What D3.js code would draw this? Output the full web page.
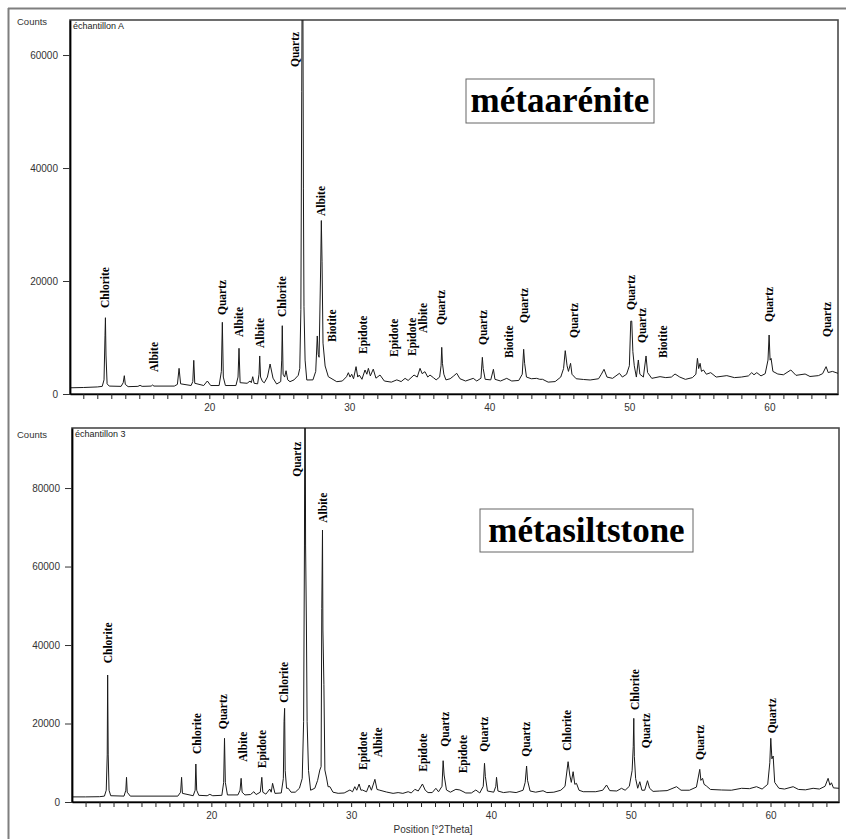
<!DOCTYPE html>
<html>
<head>
<meta charset="utf-8">
<script src="https://cdn.jsdelivr.net/npm/d3@7"></script>
<style>
  html, body { margin: 0; padding: 0; background: #ffffff; }
  svg { display: block; }
</style>
</head>
<body>
<svg id="chart" width="846" height="839"></svg>
<script>
// ---------- DATA ----------
// échantillon A (métaarénite): 2θ positions and counts
const thetaA = [10.05,11.0,12.0,12.35,12.48,12.55,12.58,12.62,12.7,12.85,13.7,13.85,13.93,14.0,14.2,14.9,15.05,15.2,15.85,15.93,16.05,17.5,17.72,17.84,17.95,18.7,18.82,18.89,18.96,19.6,19.86,20.1,20.7,20.86,20.93,21.0,21.15,21.9,22.05,22.12,22.2,22.7,22.91,23.0,23.1,23.2,23.45,23.55,23.6,23.66,23.8,23.93,24.15,24.34,24.55,24.81,25.1,25.17,25.21,25.27,25.38,25.48,25.6,25.76,26.05,26.35,26.46,26.54,26.6,26.66,26.72,26.76,26.84,26.96,27.4,27.6,27.71,27.78,27.84,27.96,28.0,28.05,28.12,28.27,28.5,29.1,29.5,29.8,29.93,30.05,30.17,30.3,30.48,30.6,30.71,30.9,31.12,31.25,31.36,31.5,31.71,31.9,32.19,32.5,33.0,33.39,33.7,33.98,34.2,34.62,34.85,35.05,35.2,35.4,35.6,35.76,36.0,36.2,36.45,36.55,36.6,36.65,36.75,36.9,37.2,37.45,37.67,37.9,38.3,38.85,39.1,39.4,39.5,39.56,39.7,40.1,40.29,40.4,40.8,41.24,41.6,42.1,42.35,42.45,42.52,42.65,43.0,43.38,43.6,43.8,44.2,44.7,45.1,45.3,45.42,45.55,45.65,45.8,45.9,46.2,46.72,47.2,47.8,48.0,48.19,48.4,48.8,49.29,49.5,49.8,50.0,50.1,50.17,50.25,50.35,50.5,50.64,50.75,51.0,51.19,51.3,51.6,52.19,52.6,53.0,53.26,53.6,54.0,54.5,54.75,54.86,54.95,55.05,55.15,55.29,55.5,55.81,56.2,56.96,57.5,58.0,58.5,58.74,58.9,59.1,59.4,59.7,59.9,59.98,60.05,60.12,60.25,60.6,61.0,61.53,61.9,62.55,62.9,63.5,63.8,64.05,64.2,64.5,64.9];
const countsA = [1100,1150,1250,1350,2500,10300,13500,6900,1800,1400,1350,2000,3240,1700,1300,1350,1530,1350,1400,1590,1400,1400,1700,4540,1800,1500,2200,5960,1900,1500,2300,1500,1500,4000,12690,3000,1500,1500,3000,8090,2000,1900,2300,2000,3060,1900,1800,3500,6730,3000,2200,1990,3000,5310,2800,1760,2200,6000,12090,3500,3000,4120,2500,2180,2500,3300,4540,15000,53600,90000,36300,15450,6000,2480,2500,4000,10270,7000,6500,23540,30700,23500,9000,4960,3060,2180,2300,3060,3770,3000,3500,2700,4840,3000,3360,2600,4250,3500,4540,3200,4400,2800,3360,2300,2100,2500,2200,2770,2400,3360,3000,4540,3600,3950,3000,3360,2900,2500,3000,5000,8260,5430,3500,2500,2700,3190,3660,2700,2300,2770,2300,2800,6490,4500,2600,2500,4370,2600,2300,2770,2300,2400,3500,7910,5430,3000,2700,2770,2600,2600,2100,2200,3000,4500,7670,5000,4000,5430,3500,2700,2570,2480,2700,3500,4370,3000,2770,3660,3000,3500,5000,12900,12900,7490,5000,3000,6020,3500,3000,6730,3800,2770,3070,2900,3000,3540,3000,2590,2900,3500,6310,4500,5430,4000,4250,3500,3780,3000,3250,2900,3000,3200,3780,3400,3780,3200,3600,6000,10440,6000,6310,4000,3540,3400,4250,3300,3540,3100,3250,3600,4840,3800,4000,3660];

// échantillon 3 (métasiltstone): 2θ positions and counts
const thetaB = [10.03,11.0,12.0,12.35,12.48,12.55,12.58,12.62,12.68,12.8,13.75,13.88,13.93,13.98,14.2,17.6,17.8,17.87,17.93,18.7,18.84,18.89,18.95,19.1,19.7,19.89,20.1,20.75,20.88,20.94,21.0,21.15,21.9,22.05,22.13,22.2,22.4,22.8,23.04,23.2,23.5,23.61,23.68,23.9,24.18,24.28,24.38,24.55,25.0,25.15,25.2,25.24,25.28,25.38,25.5,25.7,26.0,26.3,26.5,26.6,26.66,26.7,26.74,26.8,26.85,26.95,27.1,27.4,27.6,27.76,27.85,27.9,27.95,27.98,28.05,28.12,28.24,28.35,28.48,28.7,29.07,29.5,29.91,30.1,30.26,30.4,30.57,30.7,30.8,31.1,31.29,31.45,31.7,31.85,32.05,32.53,33.0,33.36,33.7,34.08,34.3,34.56,34.8,35.1,35.3,35.5,35.8,36.06,36.25,36.5,36.58,36.65,36.82,37.1,37.49,37.78,38.2,38.6,38.92,39.2,39.45,39.54,39.6,39.75,40.2,40.35,40.4,40.5,40.9,41.35,41.8,42.3,42.45,42.55,42.62,42.8,43.2,43.73,44.0,44.5,45.0,45.3,45.52,45.64,45.75,45.88,46.0,46.12,46.3,46.6,47.5,48.0,48.27,48.5,49.0,49.34,49.6,49.9,50.1,50.18,50.22,50.26,50.35,50.5,50.65,50.8,51.0,51.2,51.35,51.6,52.08,52.6,53.28,53.6,54.2,54.7,54.94,55.02,55.14,55.25,55.42,55.7,56.5,57.2,57.93,58.5,59.0,59.4,59.8,59.95,60.02,60.1,60.19,60.3,60.6,61.0,61.62,62.0,62.5,63.05,63.5,63.9,64.12,64.25,64.36,64.5,64.9];
const countsB = [1300,1300,1350,1500,3000,12000,32360,12000,3000,1600,1500,3000,6290,2500,1500,1500,2500,6290,2200,1600,3000,9680,3000,1700,1600,1950,1600,1700,5000,16230,5000,1800,1800,3000,6030,2500,1800,1900,2620,1900,2500,6290,2500,2000,3310,2500,4760,2200,2300,6000,20460,23870,8000,3500,3490,2500,2500,3500,6000,20460,65480,130000,65480,45100,20460,8000,3000,3500,5500,8150,9000,49350,69300,43820,30000,8150,6110,3900,3900,2500,2210,2300,3060,2600,3900,3000,4590,3000,3060,2600,4330,3000,5780,3200,3000,2540,2200,2400,2200,2620,2300,3230,2800,4590,3000,2400,2400,3490,2600,4000,10520,6880,3060,2500,3230,3060,2300,2300,3060,2300,4000,9860,6540,2800,2500,4000,6290,2800,2400,2600,2400,3000,5000,9170,5500,2800,2500,2870,2400,2500,3000,4000,10270,6880,5000,7720,4500,4760,3000,2620,2620,3000,4330,2900,2800,3490,3000,4000,8000,14100,21320,11550,6000,3500,5170,3000,3000,5430,3500,2700,2800,2900,3900,3000,3000,3800,8320,5500,6030,4500,4070,3200,3060,3000,3490,3400,3900,3300,4500,10000,16230,11000,11720,5000,3500,3300,3900,3200,3100,3490,3300,4000,6030,4300,4900,3600,3490];

// Phase labels: names, 2θ position and the count level where each label begins
const labelNamesA = ["Chlorite","Albite","Quartz","Albite","Albite","Chlorite","Quartz","Albite","Biotite","Epidote","Epidote","Epidote","Albite","Quartz","Quartz","Biotite","Quartz","Quartz","Quartz","Quartz","Biotite","Quartz","Quartz"];
const labelThetaA = [12.55,16.05,20.91,22.12,23.62,25.19,26.12,27.96,28.79,31.0,33.21,34.46,35.29,36.55,39.53,41.39,42.48,46.05,50.12,50.89,52.43,60.0,64.1];
const labelCountsA = [15220,3890,13980,10090,8140,13630,57880,31500,9200,7080,6550,6730,10800,12210,8670,6370,12570,9910,14870,9030,6370,12740,10090];

const labelNamesB = ["Chlorite","Chlorite","Quartz","Albite","Epidote","Chlorite","Quartz","Albite","Epidote","Albite","Epidote","Quartz","Epidote","Quartz","Quartz","Chlorite","Chlorite","Quartz","Quartz","Quartz"];
const labelThetaB = [12.62,18.94,20.84,22.23,23.59,25.21,26.14,28.0,30.86,31.93,35.11,36.7,38.01,39.49,42.48,45.45,50.29,51.08,54.94,60.11];
const labelCountsB = [35340,12230,18520,10270,8590,25300,82880,71160,8150,11390,7720,14090,7310,12820,11540,13070,23440,13680,10700,17500];

const yTicksA = [0, 20000, 40000, 60000];
const yTicksB = [0, 20000, 40000, 60000, 80000];
const xTickLabels = [20, 30, 40, 50, 60];
const sampleNames = ["échantillon A", "échantillon 3"];
const rockNames = ["métaarénite", "métasiltstone"];
const xTitle = "Position [°2Theta]";
const yTitle = "Counts";

// ---------- DRAWING ----------
const svg = d3.select("#chart");
const sans = "'Liberation Sans', Arial, sans-serif";
const serif = "'Liberation Serif', 'Times New Roman', serif";

// outer grey frame
svg.append("line").attr("x1", 8).attr("x2", 846).attr("y1", 8.5).attr("y2", 8.5)
  .attr("stroke", "#7f7f7f").attr("stroke-width", 2);
svg.append("line").attr("x1", 8.5).attr("x2", 8.5).attr("y1", 8).attr("y2", 839)
  .attr("stroke", "#7f7f7f").attr("stroke-width", 2);

function panel(cfg) {
  const { left, right, top, bottom, xDomain, yMax, theta, counts, yTicks,
          names, lth, lct, sample, rock, box, id, showXTitle, countsY } = cfg;
  const x = d3.scaleLinear().domain(xDomain).range([left, right]);
  const y = d3.scaleLinear().domain([0, yMax]).range([bottom, top]);
  const g = svg.append("g");

  g.append("clipPath").attr("id", id).append("rect")
    .attr("x", left).attr("y", top).attr("width", right - left).attr("height", bottom - top);

  // frame
  g.append("rect").attr("x", left).attr("y", top).attr("width", right - left).attr("height", bottom - top)
    .attr("fill", "none").attr("stroke", "#4a4a4a").attr("stroke-width", 1.6);

  // pattern
  const pts = theta.map((t, i) => [t, counts[i]]);
  g.append("path").datum(pts)
    .attr("clip-path", `url(#${id})`)
    .attr("fill", "none").attr("stroke", "#1a1a1a").attr("stroke-width", 1)
    .attr("stroke-linejoin", "round")
    .attr("d", d3.line().x(d => x(d[0])).y(d => y(d[1])));

  // x axis
  const minor = d3.range(Math.ceil(xDomain[0]), Math.floor(xDomain[1]) + 1);
  const xAxis = d3.axisBottom(x).tickValues(minor).tickSize(5).tickSizeOuter(0)
    .tickFormat(d => xTickLabels.includes(d) ? d : "");
  const xa = g.append("g").attr("transform", `translate(0,${bottom})`).call(xAxis);
  xa.select(".domain").attr("stroke", "#000").attr("stroke-width", 1.6);
  xa.selectAll(".tick line").attr("stroke", "#222");
  xa.selectAll(".tick text").attr("font-family", sans).attr("font-size", 10).attr("fill", "#333").attr("dy", "0.9em");

  // y axis
  const yAxis = d3.axisLeft(y).tickValues(yTicks).tickSize(7).tickSizeOuter(0).tickPadding(5)
    .tickFormat(d3.format("d"));
  const ya = g.append("g").attr("transform", `translate(${left},0)`).call(yAxis);
  ya.select(".domain").attr("stroke", "#000").attr("stroke-width", 1.8);
  ya.selectAll(".tick line").attr("stroke", "#333");
  ya.selectAll(".tick text").attr("font-family", sans).attr("font-size", 10).attr("fill", "#333");

  g.append("text").attr("x", 17).attr("y", countsY).text(yTitle)
    .attr("font-family", sans).attr("font-size", 9.5).attr("fill", "#333");
  g.append("text").attr("x", left + 3).attr("y", top + 9).text(sample)
    .attr("font-family", sans).attr("font-size", 9).attr("fill", "#222");

  // phase labels
  g.selectAll("text.lab").data(names).enter().append("text").attr("class", "lab")
    .attr("transform", (d, i) => `translate(${x(lth[i]) + 4},${y(lct[i])}) rotate(-90)`)
    .attr("font-family", serif).attr("font-weight", "bold").attr("font-size", 11.5)
    .attr("fill", "#000").text(d => d);

  // rock-name box
  g.append("rect").attr("x", box[0]).attr("y", box[1]).attr("width", box[2]).attr("height", box[3])
    .attr("fill", "#fff").attr("stroke", "#666").attr("stroke-width", 1);
  g.append("text").attr("x", box[0] + box[2] / 2).attr("y", box[1] + box[3] / 2 + 11)
    .attr("text-anchor", "middle").attr("font-family", serif).attr("font-weight", "bold")
    .attr("font-size", 35).attr("fill", "#000").text(rock);

  if (showXTitle) {
    g.append("text").attr("x", 433).attr("y", 833).attr("text-anchor", "middle")
      .attr("font-family", sans).attr("font-size", 10).attr("fill", "#333").text(xTitle);
  }
}

panel({ id: "clipA", left: 70, right: 838, top: 20, bottom: 394, xDomain: [10.05, 64.9], yMax: 66200,
  theta: thetaA, counts: countsA, yTicks: yTicksA, names: labelNamesA, lth: labelThetaA, lct: labelCountsA,
  sample: sampleNames[0], rock: rockNames[0], box: [466, 79, 188, 44], showXTitle: false, countsY: 25 });

panel({ id: "clipB", left: 72, right: 839, top: 428, bottom: 802, xDomain: [10.03, 64.9], yMax: 95300,
  theta: thetaB, counts: countsB, yTicks: yTicksB, names: labelNamesB, lth: labelThetaB, lct: labelCountsB,
  sample: sampleNames[1], rock: rockNames[1], box: [480, 509, 213, 43], showXTitle: true, countsY: 438 });
</script>
</body>
</html>
